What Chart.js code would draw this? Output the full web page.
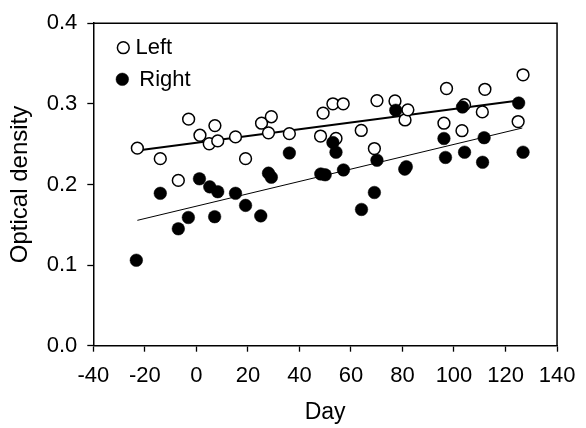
<!DOCTYPE html>
<html>
<head>
<meta charset="utf-8">
<script src="https://cdn.jsdelivr.net/npm/chart.js@4/dist/chart.umd.min.js"></script>
<style>
  html, body { margin: 0; padding: 0; background: #fff; }
  #wrap { position: relative; width: 586px; height: 428px; }
</style>
</head>
<body>
<div id="wrap"><canvas id="c" width="586" height="428"></canvas></div>
<script>
// ---- Data ----
const xTicks = [-40, -20, 0, 20, 40, 60, 80, 100, 120, 140];
const yTicks = [0.0, 0.1, 0.2, 0.3, 0.4];

const leftDays = [-22.9, -14, -7, -3, 1.4, 5, 7.2, 8.3, 15.2, 19.1, 25.3, 28, 29.1, 36.1, 48.2, 49.2, 53, 54.2, 57, 64, 69.1, 70.1, 77.1, 81, 82.1, 96.1, 97.1, 103.1, 104.1, 111, 112, 124.9, 126.8];
const leftOD   = [0.245, 0.232, 0.205, 0.281, 0.261, 0.2505, 0.273, 0.254, 0.259, 0.232, 0.276, 0.264, 0.284, 0.263, 0.260, 0.2885, 0.300, 0.257, 0.300, 0.267, 0.2445, 0.304, 0.3035, 0.280, 0.2925, 0.276, 0.319, 0.2667, 0.299, 0.290, 0.318, 0.278, 0.336];

const rightDays = [-23.3, -14, -7, -3.1, 1.2, 5.2, 7.1, 8.3, 15.2, 19.1, 25, 28, 29.1, 36.1, 48.3, 50, 53, 54.2, 57.1, 64.1, 69.1, 70.1, 77.4, 80.9, 81.5, 96.1, 96.7, 103.3, 104.1, 111.1, 111.7, 125.1, 126.8];
const rightOD   = [0.106, 0.189, 0.145, 0.159, 0.207, 0.197, 0.160, 0.191, 0.189, 0.174, 0.161, 0.214, 0.209, 0.239, 0.213, 0.212, 0.252, 0.240, 0.218, 0.169, 0.190, 0.230, 0.292, 0.219, 0.222, 0.257, 0.2335, 0.296, 0.240, 0.2275, 0.258, 0.301, 0.240];

const leftFitDays = [-22.9, 125.1];
const leftFitOD   = [0.242, 0.304];
const rightFitDays = [-22.9, 126.5];
const rightFitOD   = [0.1555, 0.270];

const seriesNames = ['Left', 'Right'];
const xTitle = 'Day';
const yTitle = 'Optical density';

// ---- Build ----
const pts = (xs, ys) => xs.map((x, i) => ({x: x, y: ys[i]}));
const FONT = 'Liberation Sans, Arial, Helvetica, sans-serif';

const frameAndLegend = {
  id: 'frameAndLegend',
  afterDraw(chart) {
    const {ctx, chartArea: a} = chart;
    ctx.save();
    ctx.strokeStyle = '#000';
    ctx.lineWidth = 1.5;
    ctx.beginPath();
    ctx.moveTo(a.left, a.top);
    ctx.lineTo(a.right, a.top);
    ctx.lineTo(a.right, a.bottom);
    ctx.stroke();

    // legend
    const ds = chart.data.datasets;
    const entries = [
      {ds: ds[1], cx: 123.3, cy: 47.7, tx: 135.5, ty: 47.5},
      {ds: ds[0], cx: 122.3, cy: 79.3, tx: 139.3, ty: 80}
    ];
    ctx.font = '22px ' + FONT;
    ctx.textBaseline = 'middle';
    ctx.textAlign = 'left';
    entries.forEach(e => {
      ctx.beginPath();
      ctx.arc(e.cx, e.cy, e.ds.pointRadius, 0, Math.PI * 2);
      ctx.fillStyle = e.ds.pointBackgroundColor;
      ctx.fill();
      ctx.lineWidth = e.ds.pointBorderWidth;
      ctx.strokeStyle = '#000';
      ctx.stroke();
      ctx.fillStyle = '#000';
      ctx.fillText(e.ds.label, e.tx, e.ty);
    });
    ctx.restore();
  }
};

new Chart(document.getElementById('c'), {
  type: 'scatter',
  data: {
    datasets: [
      {
        label: seriesNames[1],
        data: pts(rightDays, rightOD),
        pointRadius: 6.3,
        pointBackgroundColor: '#000',
        pointBorderColor: '#000',
        pointBorderWidth: 0.5,
        showLine: false
      },
      {
        label: seriesNames[0],
        data: pts(leftDays, leftOD),
        pointRadius: 5.9,
        pointBackgroundColor: '#fff',
        pointBorderColor: '#000',
        pointBorderWidth: 1.5,
        showLine: false
      },
      {
        label: 'Left fit',
        type: 'line',
        data: pts(leftFitDays, leftFitOD),
        borderColor: '#000',
        borderWidth: 2,
        pointRadius: 0,
        fill: false
      },
      {
        label: 'Right fit',
        type: 'line',
        data: pts(rightFitDays, rightFitOD),
        borderColor: '#000',
        borderWidth: 1,
        pointRadius: 0,
        fill: false
      }
    ]
  },
  options: {
    responsive: false,
    animation: false,
    devicePixelRatio: 1,
    layout: { padding: { top: 15.7, right: 20, left: 0, bottom: 0 } },
    plugins: { legend: { display: false }, tooltip: { enabled: false } },
    scales: {
      x: {
        type: 'linear',
        min: xTicks[0], max: xTicks[xTicks.length - 1],
        afterBuildTicks: s => { s.ticks = xTicks.map(v => ({value: v})); },
        afterFit: s => { s.height = 82.3; },
        border: { display: true, color: '#000', width: 1.5 },
        grid: { drawOnChartArea: false, drawTicks: true, tickLength: 6, color: '#000', tickWidth: 1.3 },
        ticks: { color: '#000', font: { family: FONT, size: 22 }, padding: 10.6, maxRotation: 0, autoSkip: false },
        title: { display: true, text: xTitle, color: '#000', font: { family: FONT, size: 23 }, padding: { top: 0, bottom: 1.2 } }
      },
      y: {
        type: 'linear',
        min: yTicks[0], max: yTicks[yTicks.length - 1],
        afterBuildTicks: s => { s.ticks = yTicks.map(v => ({value: v})); },
        afterFit: s => { s.width = 93.3; },
        border: { display: true, color: '#000', width: 1.5 },
        grid: { drawOnChartArea: false, drawTicks: true, tickLength: 6, color: '#000', tickWidth: 1.3 },
        ticks: { color: '#000', font: { family: FONT, size: 22 }, padding: 10, callback: v => Number(v).toFixed(1) },
        title: { display: true, text: yTitle, color: '#000', font: { family: FONT, size: 24 }, padding: { top: 5.9, bottom: 0 } }
      }
    }
  },
  plugins: [frameAndLegend]
});
</script>
</body>
</html>
